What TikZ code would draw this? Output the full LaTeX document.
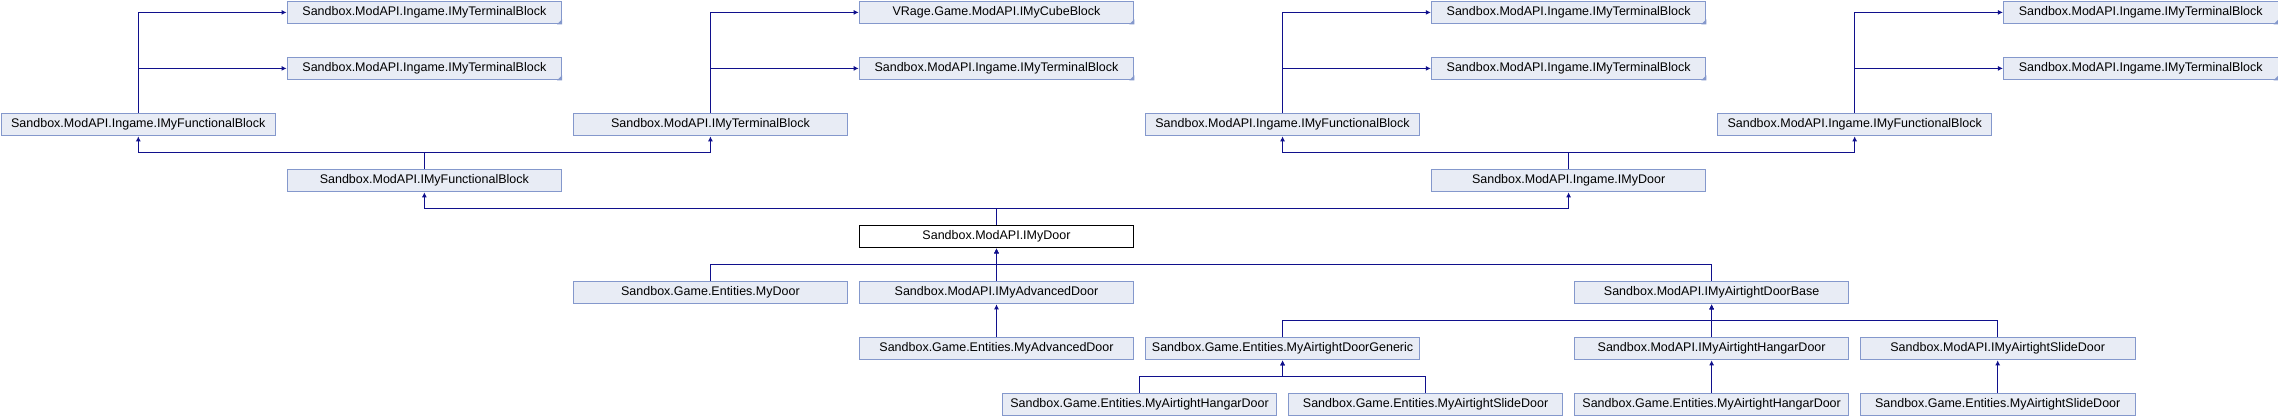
\documentclass[tikz,border=0pt]{standalone}
\usepackage{fontspec}
\setmainfont{Liberation Sans}
\usetikzlibrary{arrows.meta}
\definecolor{boxfill}{RGB}{232,236,245}
\definecolor{boxline}{RGB}{132,152,204}
\definecolor{edgecol}{RGB}{16,16,140}
\tikzset{
  box/.style={draw=boxline, fill=boxfill, line width=1pt, rectangle, anchor=north west,
    minimum width=274.6pt, minimum height=22.8pt, inner sep=0pt,
    font=\fontsize{12.5}{15}\selectfont},
  mainbox/.style={box, draw=black, fill=white},
  edge/.style={draw=edgecol, line width=1pt, -{Latex[length=5pt,width=5pt]}},
}
\begin{document}
\begin{tikzpicture}[x=1pt,y=-1pt]
\useasboundingbox[fill=white] (0,0) rectangle (2278,416);
% row 0
\node[box] (B0) at (286.56,0.5) {Sandbox.ModAPI.Ingame.IMyTerminalBlock};
\node[box] (D0) at (858.68,0.5) {VRage.Game.ModAPI.IMyCubeBlock};
\node[box] (H0) at (1430.8,0.5) {Sandbox.ModAPI.Ingame.IMyTerminalBlock};
\node[box] (L0) at (2002.92,0.5) {Sandbox.ModAPI.Ingame.IMyTerminalBlock};
% row 1
\node[box] (B1) at (286.56,56.5) {Sandbox.ModAPI.Ingame.IMyTerminalBlock};
\node[box] (D1) at (858.68,56.5) {Sandbox.ModAPI.Ingame.IMyTerminalBlock};
\node[box] (H1) at (1430.8,56.5) {Sandbox.ModAPI.Ingame.IMyTerminalBlock};
\node[box] (L1) at (2002.92,56.5) {Sandbox.ModAPI.Ingame.IMyTerminalBlock};
% row 2
\node[box] (A2) at (0.5,112.5) {Sandbox.ModAPI.Ingame.IMyFunctionalBlock};
\node[box] (C2) at (572.62,112.5) {Sandbox.ModAPI.IMyTerminalBlock};
\node[box] (F2) at (1144.74,112.5) {Sandbox.ModAPI.Ingame.IMyFunctionalBlock};
\node[box] (J2) at (1716.86,112.5) {Sandbox.ModAPI.Ingame.IMyFunctionalBlock};
% row 3
\node[box] (B3) at (286.56,168.5) {Sandbox.ModAPI.IMyFunctionalBlock};
\node[box] (H3) at (1430.8,168.5) {Sandbox.ModAPI.Ingame.IMyDoor};
% row 4
\node[mainbox] (D4) at (858.68,224.5) {Sandbox.ModAPI.IMyDoor};
% row 5
\node[box] (C5) at (572.62,280.5) {Sandbox.Game.Entities.MyDoor};
\node[box] (D5) at (858.68,280.5) {Sandbox.ModAPI.IMyAdvancedDoor};
\node[box] (I5) at (1573.83,280.5) {Sandbox.ModAPI.IMyAirtightDoorBase};
% row 6
\node[box] (D6) at (858.68,336.5) {Sandbox.Game.Entities.MyAdvancedDoor};
\node[box] (F6) at (1144.74,336.5) {Sandbox.Game.Entities.MyAirtightDoorGeneric};
\node[box] (I6) at (1573.83,336.5) {Sandbox.ModAPI.IMyAirtightHangarDoor};
\node[box] (K6) at (1859.89,336.5) {Sandbox.ModAPI.IMyAirtightSlideDoor};
% row 7
\node[box] (E7) at (1001.71,392.5) {Sandbox.Game.Entities.MyAirtightHangarDoor};
\node[box] (G7) at (1287.77,392.5) {Sandbox.Game.Entities.MyAirtightSlideDoor};
\node[box] (I7) at (1573.83,392.5) {Sandbox.Game.Entities.MyAirtightHangarDoor};
\node[box] (K7) at (1859.89,392.5) {Sandbox.Game.Entities.MyAirtightSlideDoor};
% truncation marks
\foreach \n in {B0,D0,H0,L0,B1,D1,H1,L1}
  \fill[boxline] (\n.south east) -- ++(-5,0) -- ++(5,-5) -- cycle;
% junction levels
\coordinate (j3) at (0,152);
\coordinate (j4) at (0,208);
\coordinate (j5) at (0,264);
\coordinate (j6) at (0,320);
\coordinate (j7) at (0,376);
% side arrows
\foreach \c/\p in {A2/B0,A2/B1,C2/D0,C2/D1,F2/H0,F2/H1,J2/L0,J2/L1}
  \draw[edge] (\c.north) |- (\p.west);
% upward arrows
\draw[edge] (B3.north) -- (B3.north |- j3) -| (A2.south);
\draw[edge] (B3.north) -- (B3.north |- j3) -| (C2.south);
\draw[edge] (H3.north) -- (H3.north |- j3) -| (F2.south);
\draw[edge] (H3.north) -- (H3.north |- j3) -| (J2.south);
\draw[edge] (D4.north) -- (D4.north |- j4) -| (B3.south);
\draw[edge] (D4.north) -- (D4.north |- j4) -| (H3.south);
\draw[edge] (C5.north) -- (C5.north |- j5) -| (D4.south);
\draw[edge] (D5.north) -- (D4.south);
\draw[edge] (I5.north) -- (I5.north |- j5) -| (D4.south);
\draw[edge] (D6.north) -- (D5.south);
\draw[edge] (F6.north) -- (F6.north |- j6) -| (I5.south);
\draw[edge] (I6.north) -- (I5.south);
\draw[edge] (K6.north) -- (K6.north |- j6) -| (I5.south);
\draw[edge] (E7.north) -- (E7.north |- j7) -| (F6.south);
\draw[edge] (G7.north) -- (G7.north |- j7) -| (F6.south);
\draw[edge] (I7.north) -- (I6.south);
\draw[edge] (K7.north) -- (K6.south);
\end{tikzpicture}
\end{document}
